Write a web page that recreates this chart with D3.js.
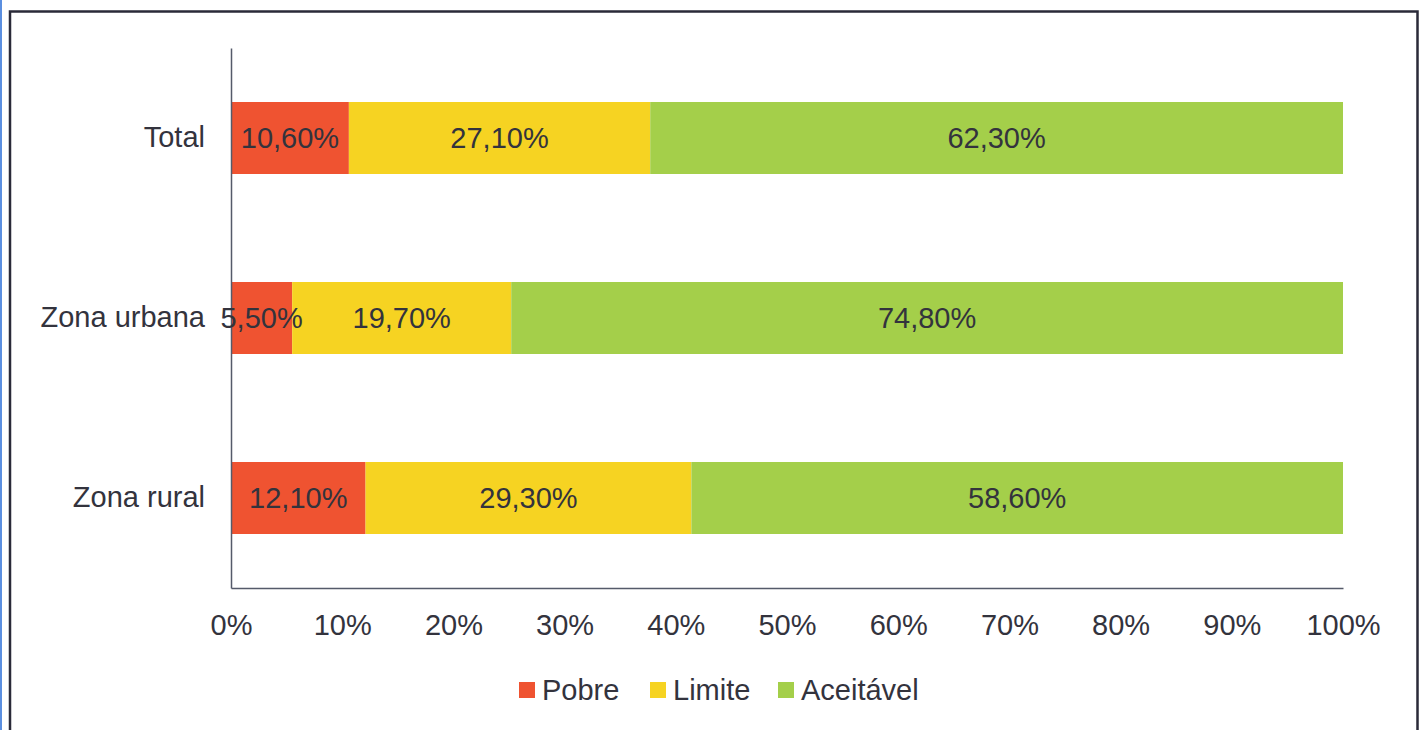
<!DOCTYPE html>
<html>
<head>
<meta charset="utf-8">
<script src="https://cdn.jsdelivr.net/npm/d3@7"></script>
<style>
  html, body { margin: 0; padding: 0; background: #fff; }
  svg { display: block; font-family: "Liberation Sans", Arial, sans-serif; }
</style>
</head>
<body>
<svg id="chart" width="1426" height="730"></svg>
<script>
const categories = ["Total", "Zona urbana", "Zona rural"];
const seriesNames = ["Pobre", "Limite", "Aceitável"];
const pobre = [10.6, 5.5, 12.1];
const limite = [27.1, 19.7, 29.3];
const aceitavel = [62.3, 74.8, 58.6];
const tickValues = [0, 10, 20, 30, 40, 50, 60, 70, 80, 90, 100];
const colors = ["#ef5331", "#f6d322", "#a4cf4a"];

const svg = d3.select("#chart");
const textColor = "#33333d";
const fontSize = 29;

// page edge + frame
svg.append("rect").attr("x", 0).attr("y", 0).attr("width", 2).attr("height", 730).attr("fill", "#5b8fe0");
svg.append("path")
    .attr("d", "M10,732 V11.5 H1417.5 V732")
    .attr("fill", "none").attr("stroke", "#2a2a38").attr("stroke-width", 2.5);

const x = d3.scaleLinear().domain([0, 100]).range([231, 1343]);
const y = d3.scaleBand().domain(categories).range([48, 588]).paddingInner(0.6).paddingOuter(0.3);

const rows = categories.map((c, i) => ({ cat: c, vals: [pobre[i], limite[i], aceitavel[i]] }));

// stacked bars
rows.forEach(r => {
    let start = 0;
    r.mids = [];
    r.vals.forEach((v, k) => {
        svg.append("rect")
            .attr("x", x(start))
            .attr("y", y(r.cat))
            .attr("width", x(start + v) - x(start))
            .attr("height", y.bandwidth())
            .attr("fill", colors[k]);
        r.mids.push(start + v / 2);
        start += v;
    });
});

// axes
const xAxis = d3.axisBottom(x).tickValues(tickValues).tickSize(0).tickPadding(26).tickFormat(d => d + "%");
const gx = svg.append("g").attr("transform", "translate(0,588)").call(xAxis);
gx.select(".domain").attr("stroke", "#555a6a").attr("stroke-width", 1.5);
gx.selectAll("text").attr("font-size", fontSize).attr("fill", textColor).attr("font-family", "Liberation Sans, Arial, sans-serif");

const yAxis = d3.axisLeft(y).tickSize(0).tickPadding(26);
const gy = svg.append("g").attr("transform", "translate(231,0)").call(yAxis);
gy.select(".domain").attr("stroke", "#555a6a").attr("stroke-width", 1.5);
gy.selectAll("text").attr("font-size", fontSize).attr("fill", textColor).attr("font-family", "Liberation Sans, Arial, sans-serif");

// data labels
rows.forEach(r => {
    r.vals.forEach((v, k) => {
        svg.append("text")
            .attr("x", x(r.mids[k]))
            .attr("y", y(r.cat) + y.bandwidth() / 2)
            .attr("dy", "0.36em")
            .attr("text-anchor", "middle")
            .attr("font-size", fontSize)
            .attr("fill", textColor)
            .text(v.toFixed(2).replace(".", ",") + "%");
    });
});

// legend
const legendX = [519, 650, 778];
seriesNames.forEach((s, i) => {
    svg.append("rect").attr("x", legendX[i]).attr("y", 682).attr("width", 16).attr("height", 16).attr("fill", colors[i]);
    svg.append("text")
        .attr("x", legendX[i] + 23).attr("y", 690).attr("dy", "0.36em")
        .attr("font-size", fontSize).attr("fill", textColor)
        .text(s);
});
</script>
</body>
</html>
